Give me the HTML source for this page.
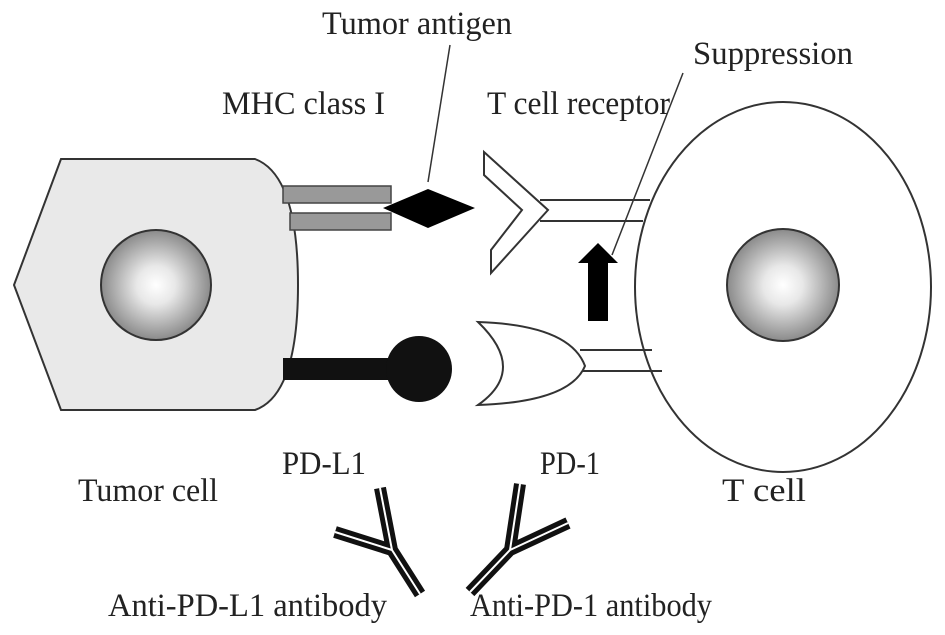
<!DOCTYPE html>
<html><head><meta charset="utf-8"><style>
html,body{margin:0;padding:0;background:#fff;}
svg{display:block;}
text{font-family:"Liberation Serif",serif;font-size:33px;fill:#222;}
</style></head><body>
<svg width="945" height="635" viewBox="0 0 945 635" xmlns="http://www.w3.org/2000/svg">
<defs>
<radialGradient id="nuc" cx="0.5" cy="0.5" r="0.5">
<stop offset="0" stop-color="#ffffff"/>
<stop offset="0.35" stop-color="#e8e8e8"/>
<stop offset="1" stop-color="#8a8a8a"/>
</radialGradient>
</defs>
<path d="M14,285 L61,159 L255,159 Q298,175 298,285 Q298,395 255,410 L61,410 Z" fill="#e9e9e9" stroke="#333" stroke-width="2"/>
<circle cx="156" cy="285" r="55" fill="url(#nuc)" stroke="#333" stroke-width="2"/>
<rect x="283" y="186" width="108" height="17" fill="#999" stroke="#444" stroke-width="1.5"/>
<rect x="290" y="213" width="101" height="17" fill="#999" stroke="#444" stroke-width="1.5"/>
<polygon points="383,208 428,189 475,208 428,228" fill="#000"/>
<rect x="283" y="358" width="110" height="22" fill="#111"/>
<circle cx="419" cy="369" r="33" fill="#111"/>
<ellipse cx="783" cy="287" rx="148" ry="185" fill="#fff" stroke="#333" stroke-width="2"/>
<circle cx="783" cy="285" r="56" fill="url(#nuc)" stroke="#333" stroke-width="2"/>
<line x1="540" y1="200" x2="650" y2="200" stroke="#333" stroke-width="2"/>
<line x1="540" y1="221" x2="643" y2="221" stroke="#333" stroke-width="2"/>
<polygon points="484,152 548,210 491,273 491,250 522,210 484,175" fill="#fff" stroke="#333" stroke-width="2"/>
<line x1="580" y1="350" x2="652" y2="350" stroke="#333" stroke-width="2"/>
<line x1="580" y1="371" x2="662" y2="371" stroke="#333" stroke-width="2"/>
<path d="M478,322 Q570,325 585,366 Q570,402 478,405 Q528,370 478,322 Z" fill="#fff" stroke="#333" stroke-width="2"/>
<polygon points="588,321 608,321 608,263 618,263 598,243 578,263 588,263" fill="#000"/>
<line x1="612" y1="255" x2="683" y2="73" stroke="#333" stroke-width="1.5"/>
<line x1="428" y1="182" x2="450" y2="45" stroke="#333" stroke-width="1.5"/>
<g stroke-linecap="butt" fill="none">
<path d="M420,594 L392,550 L380,488 M392,550 L335,532" stroke="#111" stroke-width="12"/>
<path d="M420,594 L392,550 L380,488 M392,550 L335,532" stroke="#fff" stroke-width="2"/>
<path d="M470,592 L510,550 L520,484 M510,550 L568,523" stroke="#111" stroke-width="12"/>
<path d="M470,592 L510,550 L520,484 M510,550 L568,523" stroke="#fff" stroke-width="2"/>
</g>
<text x="322" y="34" textLength="190" lengthAdjust="spacingAndGlyphs">Tumor antigen</text>
<text x="222" y="114" textLength="163" lengthAdjust="spacingAndGlyphs">MHC class I</text>
<text x="487" y="114" textLength="183" lengthAdjust="spacingAndGlyphs">T cell receptor</text>
<text x="693" y="64" textLength="160" lengthAdjust="spacingAndGlyphs">Suppression</text>
<text x="78" y="501" textLength="140" lengthAdjust="spacingAndGlyphs">Tumor cell</text>
<text x="282" y="474" textLength="84" lengthAdjust="spacingAndGlyphs">PD-L1</text>
<text x="540" y="474" textLength="60" lengthAdjust="spacingAndGlyphs">PD-1</text>
<text x="722" y="501" textLength="84" lengthAdjust="spacingAndGlyphs">T cell</text>
<text x="108" y="616" textLength="279" lengthAdjust="spacingAndGlyphs">Anti-PD-L1 antibody</text>
<text x="470" y="616" textLength="242" lengthAdjust="spacingAndGlyphs">Anti-PD-1 antibody</text>
</svg>
</body></html>
